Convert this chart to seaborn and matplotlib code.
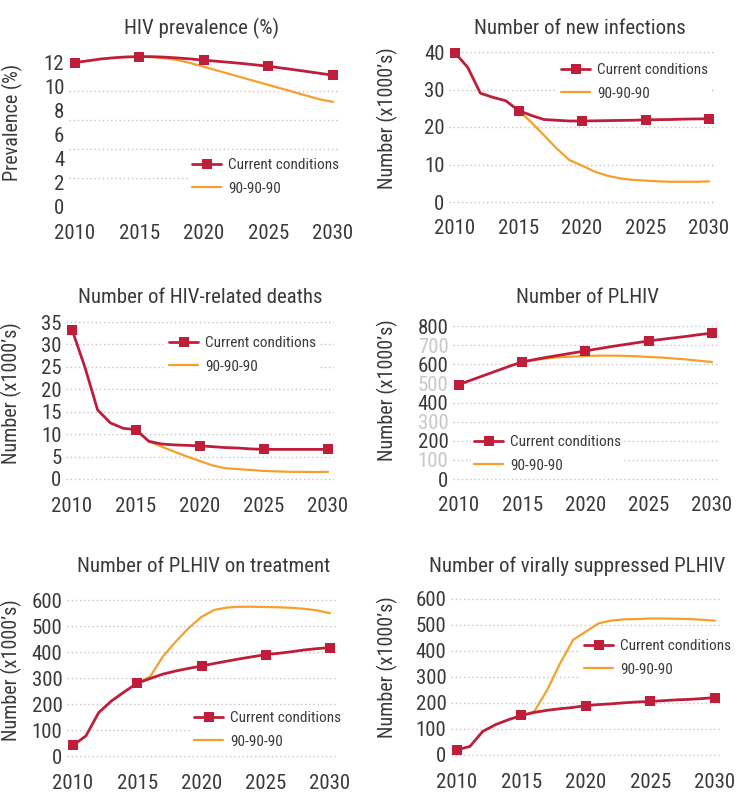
import numpy as np
import seaborn as sns
import pandas as pd
from matplotlib import pyplot as plt
from matplotlib import font_manager
from matplotlib.legend_handler import HandlerLine2D

years = list(range(2010, 2031))

# HIV prevalence (%)
prev_current = [11.95, 12.1, 12.25, 12.35, 12.42, 12.45, 12.44, 12.4, 12.33, 12.25, 12.15,
                12.06, 11.97, 11.87, 11.76, 11.65, 11.5, 11.36, 11.21, 11.06, 10.9]
prev_909090 = [None] * 5 + [12.45, 12.4, 12.3, 12.15, 11.9, 11.6,
                            11.3, 11.0, 10.7, 10.4, 10.1, 9.8, 9.5, 9.2, 8.9, 8.7]

# new infections (x1000)
inf_current = [39.8, 35.9, 29.0, 27.9, 27.0, 24.4, 23.1, 22.0, 21.8, 21.6, 21.6,
               21.65, 21.7, 21.75, 21.8, 21.9, 21.95, 22.0, 22.1, 22.15, 22.2]
inf_909090 = [None] * 5 + [24.4, 21.3, 17.8, 14.3, 11.2, 9.7,
                           8.1, 7.0, 6.3, 5.9, 5.7, 5.5, 5.4, 5.4, 5.4, 5.5]

# HIV-related deaths (x1000)
death_current = [33.3, 25.0, 15.4, 12.5, 11.3, 11.0, 8.4, 7.8, 7.6, 7.5, 7.4,
                 7.2, 7.0, 6.9, 6.7, 6.6, 6.6, 6.6, 6.6, 6.6, 6.6]
death_909090 = [None] * 5 + [11.0, 8.4, 7.2, 6.1, 5.0, 4.0,
                             3.0, 2.4, 2.2, 2.0, 1.8, 1.7, 1.6, 1.6, 1.55, 1.6]

# PLHIV (x1000)
plhiv_current = [494, 518, 542, 566, 590, 612, 625, 637, 648, 659, 670,
                 681, 692, 702, 712, 722, 730, 738, 746, 755, 763]
plhiv_909090 = [None] * 5 + [612, 622, 631, 637, 640, 643,
                             645, 645, 644, 642, 638, 635, 630, 625, 618, 612]

# PLHIV on treatment (x1000)
treat_current = [41, 77, 167, 212, 247, 280, 298, 315, 327, 337, 346,
                 356, 365, 374, 382, 390, 395, 401, 408, 413, 417]
treat_909090 = [None] * 5 + [280, 305, 383, 440, 492, 535,
                             562, 571, 574, 574, 573, 572, 570, 566, 560, 549]

# virally suppressed PLHIV (x1000)
vs_current = [20, 33, 91, 117, 136, 152, 164, 172, 178, 183, 190,
              194, 197, 201, 204, 206, 209, 212, 214, 217, 221]
vs_909090 = [None] * 5 + [152, 168, 251, 353, 443, 475,
                          507, 517, 522, 523, 525, 525, 524, 523, 520, 517]

titles = ["HIV prevalence (%)", "Number of new infections",
          "Number of HIV-related deaths", "Number of PLHIV",
          "Number of PLHIV on treatment", "Number of virally suppressed PLHIV"]
ylabels = ["Prevalence (%)"] + ["Number (x1000\u2019s)"] * 5
yticks = [list(range(0, 13, 2)), list(range(0, 41, 10)), list(range(0, 36, 5)),
          list(range(0, 801, 100)), list(range(0, 601, 100)), list(range(0, 601, 100))]
xticks = [2010, 2015, 2020, 2025, 2030]
series_labels = ["Current conditions", "90-90-90"]

panels = [(prev_current, prev_909090), (inf_current, inf_909090),
          (death_current, death_909090), (plhiv_current, plhiv_909090),
          (treat_current, treat_909090), (vs_current, vs_909090)]

# layout in pixels: x of 2010, x of 2030, y of 0, y of top tick
layout = [(75, 333, 207, 62), (455, 709, 202, 52), (72, 328, 479, 322),
          (459, 712, 479, 326), (73, 330, 756, 600), (457, 715, 755, 599)]
title_pos = [(202, 34), (580, 34), (200, 303), (587, 303), (204, 572), (577, 572)]
ylabel_pos = [(23, 122), (398, 118), (22, 393), (398, 390), (22, 670), (398, 667)]
legend_pos = [(189, 177), (558, 82), (166, 355), (471, 454), (191, 730), (581, 658)]

W, H = 740, 794
RED = "#BE1E3A"
ORANGE = "#F5A02C"
TXT = "#3a3a3a"

sns.set_style("white")
wanted = ['Roboto Condensed', 'Liberation Sans Narrow', 'Open Sans Condensed',
          'Noto Sans Condensed', 'Roboto', 'Liberation Sans', 'DejaVu Sans']
have = {f.name for f in font_manager.fontManager.ttflist}
plt.rcParams['font.family'] = [f for f in wanted if f in have]
plt.rcParams['font.stretch'] = 'condensed'
plt.rcParams['text.color'] = TXT


class EndMarkerHandler(HandlerLine2D):
    # put the legend marker at the right end of the handle line
    def get_xdata(self, legend, xdescent, ydescent, width, height, fontsize):
        xdata = [-xdescent, -xdescent + width]
        return xdata, [-xdescent + 0.85 * width]


fig = plt.figure(figsize=(W / 100, H / 100), dpi=100)

for i, (cur, alt) in enumerate(panels):
    x0, x1, yb, yt = layout[i]
    ymax = yticks[i][-1]
    ppx = (x1 - x0) / 20.0
    ppy = (yb - yt) / ymax
    left = x0 - 0.5 * ppx
    right = x1 + 0.5 * ppx
    ylo, yhi = -0.05 * ymax, 1.04 * ymax
    bottom_px = yb - ylo * ppy
    top_px = yb - yhi * ppy
    ax = fig.add_axes([left / W, 1 - bottom_px / H, (right - left) / W, (bottom_px - top_px) / H])

    df = pd.DataFrame({"year": years, "cur": cur,
                       "alt": pd.array(alt, dtype="Float64")})
    sns.lineplot(data=df, x="year", y="alt", ax=ax, color=ORANGE, lw=1.6,
                 label=series_labels[1], zorder=3)
    sns.lineplot(data=df, x="year", y="cur", ax=ax, color=RED, lw=2.0,
                 marker="s", markersize=7, markeredgewidth=0, markevery=5,
                 label=series_labels[0], zorder=4, clip_on=False)

    ax.set_xlim(2010 - 0.5, 2030 + 0.5)
    ax.set_ylim(ylo, yhi)
    ax.set_xticks(xticks)
    ax.set_yticks(yticks[i])
    ax.tick_params(length=0, labelsize=15, colors=TXT, pad=3)
    ax.tick_params(axis="x", pad=7)
    ax.set_xlabel("")
    ax.set_ylabel(ylabels[i], fontsize=14.5, color=TXT)
    ax.yaxis.set_label_coords(ylabel_pos[i][0] / W, 1 - ylabel_pos[i][1] / H,
                              transform=fig.transFigure)
    sns.despine(ax=ax, left=True, bottom=True)

    if i == 0:
        # gridlines in this panel are not aligned with the tick labels
        ax.set_yticks(np.linspace(0, 12, 6), minor=True)
        ax.tick_params(which="minor", length=0)
        ax.yaxis.grid(True, which="minor", ls=(0, (1, 2)), color="#c4c4c4", lw=1)
        ax.yaxis.grid(False, which="major")
    else:
        ax.yaxis.grid(True, ls=(0, (1, 2)), color="#c4c4c4", lw=1)
    ax.set_axisbelow(True)

    if i == 3:
        for lab, v in zip(ax.get_yticklabels(), yticks[i]):
            if v % 200:
                lab.set_color("#c8c8c8")

    fig.text(title_pos[i][0] / W, 1 - title_pos[i][1] / H, titles[i],
             ha="center", va="baseline", fontsize=15, color=TXT)

    handles, labels = ax.get_legend_handles_labels()
    order = [labels.index(series_labels[0]), labels.index(series_labels[1])]
    leg = ax.legend([handles[k] for k in order], [labels[k] for k in order],
                    loc="center left",
                    bbox_to_anchor=(legend_pos[i][0] / W, 1 - legend_pos[i][1] / H),
                    bbox_transform=fig.transFigure,
                    frameon=True, facecolor="white", edgecolor="none", framealpha=1,
                    fancybox=False, borderpad=0.2, borderaxespad=0,
                    handlelength=1.9, handletextpad=0.45, labelspacing=0.6,
                    fontsize=11, handler_map={plt.Line2D: EndMarkerHandler(numpoints=1)})
    for t in leg.get_texts():
        t.set_color(TXT)

fig.savefig("out.png", dpi=100, facecolor="white")
